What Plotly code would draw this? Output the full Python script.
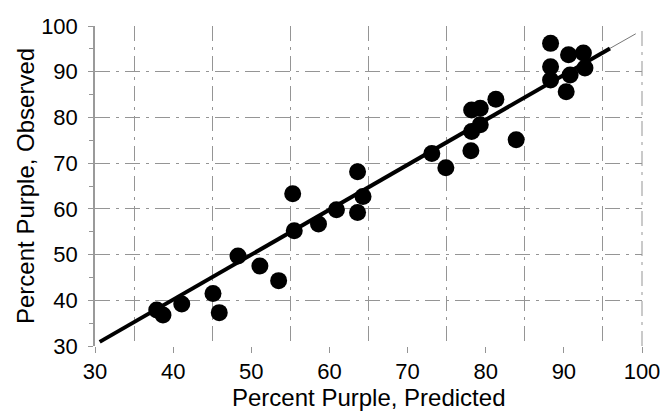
import plotly.graph_objects as go

# Observed vs predicted percent purple
predicted = [37.9, 38.7, 41.1, 45.1, 45.9, 48.3, 51.1, 53.5, 55.3, 55.5,
             58.6, 60.9, 63.6, 64.3, 63.6, 73.1, 74.9, 78.1, 83.9, 78.2,
             79.3, 78.2, 79.3, 81.3, 88.3, 88.3, 88.3, 90.3, 90.6, 90.8,
             92.5, 92.7]
observed = [37.9, 36.8, 39.2, 41.5, 37.3, 49.7, 47.5, 44.3, 63.3, 55.2,
            56.7, 59.8, 59.2, 62.7, 68.1, 72.1, 69.0, 72.7, 75.1, 76.9,
            78.4, 81.6, 82.0, 84.0, 96.2, 91.1, 88.2, 85.6, 93.7, 89.3,
            94.1, 90.8]

fit_x = [30.6, 95.9]
fit_y = [30.9, 95.1]
ext_x = [95.9, 99.2]
ext_y = [95.1, 98.3]

x_ticks = [30, 40, 50, 60, 70, 80, 90, 100]
y_ticks = [30, 40, 50, 60, 70, 80, 90, 100]
x_title = "Percent Purple, Predicted"
y_title = "Percent Purple, Observed"

FONT = "Liberation Sans, Arial, sans-serif"
GRID = "#959595"

fig = go.Figure()
fig.add_trace(go.Scatter(x=ext_x, y=ext_y, mode="lines",
                         line=dict(color="#777777", width=1),
                         showlegend=False, hoverinfo="skip"))
fig.add_trace(go.Scatter(x=fit_x, y=fit_y, mode="lines",
                         line=dict(color="black", width=4),
                         showlegend=False))
fig.add_trace(go.Scatter(x=predicted, y=observed, mode="markers",
                         marker=dict(symbol="circle", size=17, color="black",
                                     line=dict(width=0)),
                         showlegend=False))

fig.update_layout(
    width=664, height=411,
    margin=dict(l=95, r=22, t=26, b=65, autoexpand=False),
    paper_bgcolor="white", plot_bgcolor="white",
    font=dict(family=FONT, size=22, color="black"),
    xaxis=dict(
        range=[30, 100], tickmode="array", tickvals=x_ticks,
        ticktext=[str(v) for v in x_ticks], automargin=False,
        showgrid=False, zeroline=False, showline=False,
        ticks="outside", ticklen=6, tickcolor=GRID, tickwidth=1,
        ticklabelstandoff=0,
        minor=dict(tick0=35, dtick=10, showgrid=True, gridcolor=GRID,
                   gridwidth=1, griddash="longdashdot", ticks=""),
    ),
    yaxis=dict(
        range=[30, 100], tickmode="array", tickvals=y_ticks,
        ticktext=[str(v) for v in y_ticks], automargin=False,
        showgrid=True, gridcolor=GRID, gridwidth=1, griddash="longdashdot",
        zeroline=False, showline=True, linecolor="#9a9a9a", linewidth=1.5,
        ticks="outside", ticklen=5, tickcolor=GRID,
        ticklabelstandoff=6,
        minor=dict(tick0=35, dtick=10, ticks="outside", ticklen=4,
                   tickcolor=GRID, showgrid=False),
    ),
    annotations=[
        dict(text=x_title, xref="paper", yref="paper", x=0.5, y=0,
             xanchor="center", yanchor="middle", yshift=-51,
             showarrow=False, font=dict(size=24)),
        dict(text=y_title, xref="paper", yref="paper", x=0, y=0.5,
             xanchor="center", yanchor="middle", xshift=-70, textangle=-90,
             showarrow=False, font=dict(size=24)),
    ],
    shapes=[dict(type="line", xref="paper", yref="paper", x0=1, x1=1,
                 y0=0, y1=1, line=dict(color=GRID, width=1,
                                       dash="longdashdot"))],
)

# remove the default 8px page margin so the figure fills the window exactly
fig.write_html("out.html", config={"displayModeBar": False},
               post_script="document.body.style.margin='0';")
